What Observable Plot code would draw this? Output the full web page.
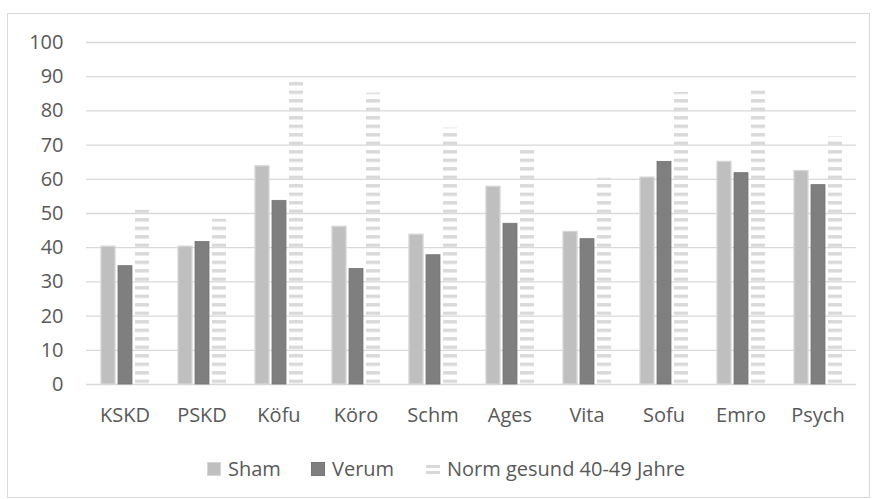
<!DOCTYPE html>
<html>
<head>
<meta charset="utf-8">
<script src="https://cdn.jsdelivr.net/npm/d3@7"></script>
<script src="https://cdn.jsdelivr.net/npm/@observablehq/plot@0.6"></script>
<style>
  html, body { margin: 0; padding: 0; background: #fff; }
  #wrap { position: relative; width: 874px; height: 499px; overflow: hidden; font-family: "Open Sans", sans-serif; }
  #border { position: absolute; left: 7px; top: 13px; width: 861px; height: 483px; border: 1px solid #d9d9d9; }
  #chart { position: absolute; left: 0; top: 0; }
  .leg { position: absolute; top: 455px; display: flex; align-items: center; font-size: 20px; color: #595959; white-space: nowrap; }
  .leg .sw { width: 14px; height: 14px; margin-right: 7px; display: inline-block; }
</style>
</head>
<body>
<div id="wrap">
  <div id="border"></div>
  <div id="chart"></div>
</div>
<script>
const categories = ["KSKD", "PSKD", "Köfu", "Köro", "Schm", "Ages", "Vita", "Sofu", "Emro", "Psych"];
const series = ["Sham", "Verum", "Norm gesund 40-49 Jahre"];
const sham  = [40.3, 40.3, 63.8, 46.1, 43.8, 57.8, 44.6, 60.5, 65.1, 62.4];
const verum = [34.6, 41.7, 53.7, 33.8, 37.8, 47.0, 42.5, 65.1, 61.8, 58.3];
const norm  = [51.0, 48.3, 88.4, 85.2, 75.0, 68.8, 60.3, 85.4, 85.9, 72.5];
const yTicks = [0, 10, 20, 30, 40, 50, 60, 70, 80, 90, 100];

const rows = (vals, s) => categories.map((c, i) => ({category: c, series: s, value: vals[i]}));
const shamRows = rows(sham, series[0]);
const verumRows = rows(verum, series[1]);
const normRows = rows(norm, series[2]);

const textColor = "#595959";
const gridColor = "#d9d9d9";

const plot = Plot.plot({
  width: 874,
  height: 499,
  marginLeft: 84,
  marginRight: 17,
  marginTop: 42,
  marginBottom: 115,
  style: {fontFamily: "Open Sans, sans-serif", fontSize: "20px", color: textColor, background: "transparent"},
  fx: {domain: categories, padding: 0, label: null},
  x: {domain: series, paddingInner: 0.19, paddingOuter: 0.818, axis: null},
  y: {domain: [0, 100], label: null},
  marks: [
    Plot.ruleY(yTicks, {stroke: gridColor, strokeWidth: 1.3}),
    Plot.barY(shamRows, {fx: "category", x: "series", y: "value", fill: "#bfbfbf", stroke: "#d6d6d6", strokeWidth: 1.3}),
    Plot.barY(verumRows, {fx: "category", x: "series", y: "value", fill: "#7f7f7f", stroke: "#767676", strokeWidth: 0.8}),
    Plot.barY(normRows, {fx: "category", x: "series", y: "value", fill: "url(#normStripes)"}),
    Plot.axisY(yTicks, {anchor: "left", tickSize: 0, tickPadding: 23, label: null, fontSize: 20}),
    Plot.axisFx({anchor: "bottom", tickSize: 0, tickPadding: 23, label: null, fontSize: 20})
  ]
});

// stripe pattern for the "Norm" series
const ns = "http://www.w3.org/2000/svg";
const defs = document.createElementNS(ns, "defs");
const pat = document.createElementNS(ns, "pattern");
pat.setAttribute("id", "normStripes");
pat.setAttribute("patternUnits", "userSpaceOnUse");
pat.setAttribute("x", "0");
pat.setAttribute("y", "379.6");
pat.setAttribute("width", "20");
pat.setAttribute("height", "8.5");
const pr = document.createElementNS(ns, "rect");
pr.setAttribute("x", "0");
pr.setAttribute("y", "0");
pr.setAttribute("width", "20");
pr.setAttribute("height", "3.4");
pr.setAttribute("fill", "#d9d9d9");
pat.appendChild(pr);
defs.appendChild(pat);
plot.insertBefore(defs, plot.firstChild);

document.getElementById("chart").appendChild(plot);

// legend
const legendItems = [
  {label: series[0], left: 207, kind: "solid", color: "#bfbfbf", border: "#d6d6d6"},
  {label: series[1], left: 311, kind: "solid", color: "#7f7f7f", border: "#767676"},
  {label: series[2], left: 426, kind: "stripes", color: "#d9d9d9"}
];
const wrap = document.getElementById("wrap");
for (const it of legendItems) {
  const d = document.createElement("div");
  d.className = "leg";
  d.style.left = it.left + "px";
  let sw;
  if (it.kind === "solid") {
    sw = `<span class="sw" style="background:${it.color};box-shadow: inset 0 0 0 1px ${it.border}"></span>`;
  } else {
    sw = `<svg class="sw" width="14" height="14" style="margin-right:7px"><rect x="0" y="3" width="14" height="3" fill="${it.color}"/><rect x="0" y="9" width="14" height="3" fill="${it.color}"/></svg>`;
  }
  d.innerHTML = sw + `<span>${it.label}</span>`;
  wrap.appendChild(d);
}
</script>
</body>
</html>
